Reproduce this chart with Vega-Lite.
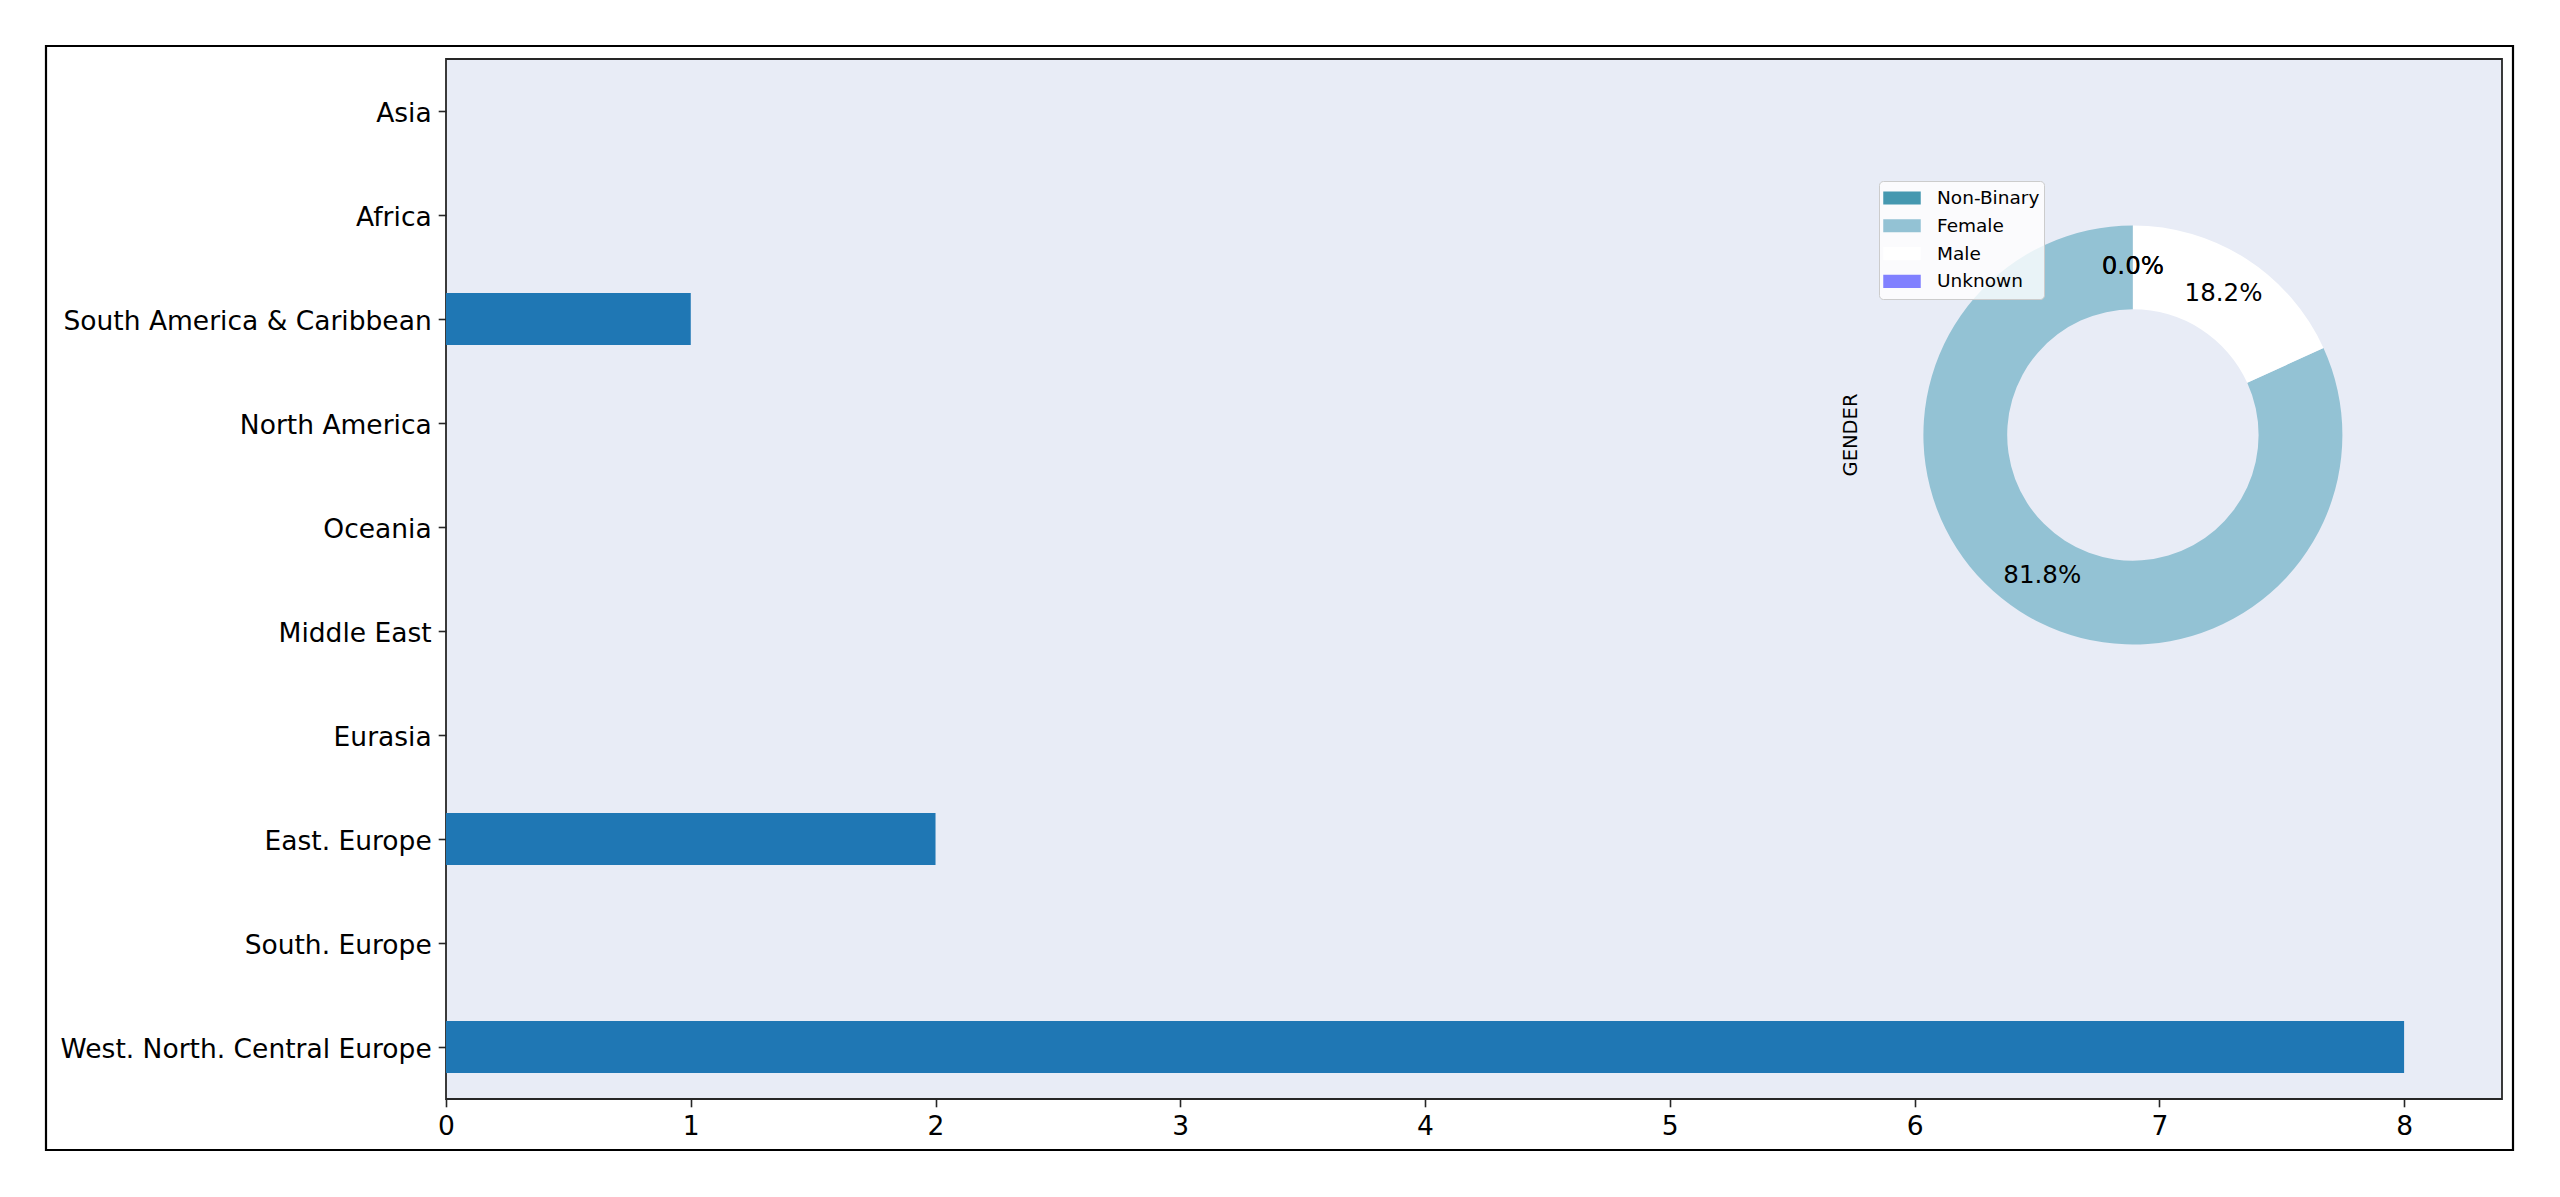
{
  "$schema": "https://vega.github.io/schema/vega-lite/v6.json",
  "width": 2056,
  "height": 1040,
  "autosize": {"type": "none"},
  "padding": {"left": 446, "top": 59, "right": 58, "bottom": 98},
  "background": "white",
  "datasets": {
    "regions": [
      {"region": "Asia", "count": 0},
      {"region": "Africa", "count": 0},
      {"region": "South America & Caribbean", "count": 1},
      {"region": "North America", "count": 0},
      {"region": "Oceania", "count": 0},
      {"region": "Middle East", "count": 0},
      {"region": "Eurasia", "count": 0},
      {"region": "East. Europe", "count": 2},
      {"region": "South. Europe", "count": 0},
      {"region": "West. North. Central Europe", "count": 8}
    ],
    "gender": [
      {"gender": "Non-Binary", "count": 0},
      {"gender": "Female", "count": 9},
      {"gender": "Male", "count": 2},
      {"gender": "Unknown", "count": 0}
    ]
  },
  "config": {
    "font": "DejaVu Sans",
    "view": {"fill": "#e8ecf6", "stroke": "#262626", "strokeWidth": 1.8},
    "axis": {
      "labelFont": "DejaVu Sans",
      "labelFontSize": 26.5,
      "labelColor": "black",
      "labelLimit": 0,
      "labelFlush": false,
      "labelOverlap": false,
      "tickColor": "#262626",
      "tickWidth": 1.6,
      "tickSize": 7.8,
      "labelPadding": 7,
      "domain": false,
      "grid": false
    }
  },
  "resolve": {"scale": {"x": "independent", "y": "independent"}},
  "layer": [
    {
      "data": {"values": [{}]},
      "mark": {"type": "rect", "fillOpacity": 0, "stroke": "black", "strokeWidth": 2.2},
      "encoding": {
        "x": {"datum": 0, "type": "quantitative", "scale": {"domain": [0, 1], "range": [-400, 2067]}, "axis": null},
        "x2": {"datum": 1},
        "y": {"datum": 0, "type": "quantitative", "scale": {"domain": [0, 1], "range": [1091, -13]}, "axis": null},
        "y2": {"datum": 1}
      }
    },
    {
      "layer": [
        {
          "data": {"name": "regions"},
          "mark": {"type": "bar", "color": "#1f77b4"},
          "encoding": {
            "y": {
              "field": "region",
              "type": "nominal",
              "scale": {
                "domain": ["Asia", "Africa", "South America & Caribbean", "North America", "Oceania", "Middle East", "Eurasia", "East. Europe", "South. Europe", "West. North. Central Europe"],
                "paddingInner": 0.5,
                "paddingOuter": 0.25
              },
              "axis": {"title": null, "labelOffset": 3}
            },
            "x": {
              "field": "count",
              "type": "quantitative",
              "scale": {"domain": [0, 8.4], "nice": false},
              "axis": {"title": null, "values": [0, 1, 2, 3, 4, 5, 6, 7, 8], "format": "d"}
            }
          }
        },
        {
          "data": {"name": "gender"},
          "mark": {"type": "arc", "outerRadius": 209.5, "innerRadius": 125.7},
          "encoding": {
            "x": {"datum": 6.892, "type": "quantitative"},
            "y": {"datum": "North America", "type": "nominal", "bandPosition": 0.73},
            "theta": {"field": "count", "type": "quantitative", "stack": true},
            "order": {"field": "gender", "sort": "descending"},
            "color": {
              "field": "gender",
              "type": "nominal",
              "scale": {"domain": ["Non-Binary", "Female", "Male", "Unknown"], "range": ["#4598b0", "#93c2d4", "#ffffff", "#8080ff"]},
              "legend": {
                "title": null,
                "orient": "none",
                "legendX": 1433,
                "legendY": 122,
                "symbolType": "M-1,-0.35H1V0.35H-1Z",
                "symbolSize": 1406,
                "symbolStrokeWidth": 0,
                "symbolOpacity": 1,
                "labelFont": "DejaVu Sans",
                "labelFontSize": 18.5,
                "labelColor": "black",
                "labelOffset": 16,
                "padding": 4,
                "clipHeight": 26,
                "rowPadding": 1.8,
                "strokeColor": "#cccccc",
                "fillColor": "rgba(255,255,255,0.8)",
                "cornerRadius": 4
              }
            }
          }
        },
        {
          "data": {"name": "gender"},
          "transform": [
            {"joinaggregate": [{"op": "sum", "field": "count", "as": "total"}]},
            {"calculate": "datum.count / datum.total", "as": "pct"}
          ],
          "mark": {"type": "text", "radius": 167.6, "fontSize": 24.5, "color": "black", "font": "DejaVu Sans"},
          "encoding": {
            "x": {"datum": 6.892, "type": "quantitative"},
            "y": {"datum": "North America", "type": "nominal", "bandPosition": 0.73},
            "theta": {"field": "count", "type": "quantitative", "stack": true},
            "order": {"field": "gender", "sort": "descending"},
            "text": {"field": "pct", "type": "quantitative", "format": ".1%"}
          }
        },
        {
          "data": {"values": [{"label": "GENDER"}]},
          "mark": {"type": "text", "angle": 270, "fontSize": 19.5, "color": "black", "font": "DejaVu Sans"},
          "encoding": {
            "x": {"datum": 5.742, "type": "quantitative"},
            "y": {"datum": "North America", "type": "nominal", "bandPosition": 0.73},
            "text": {"field": "label", "type": "nominal"}
          }
        }
      ]
    }
  ]
}
